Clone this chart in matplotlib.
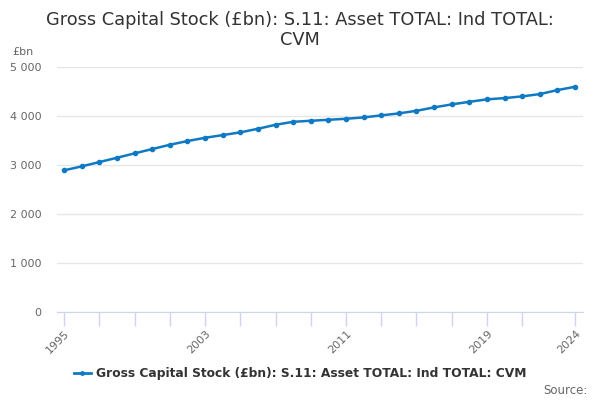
import matplotlib
matplotlib.use("Agg")
import matplotlib.pyplot as plt
from matplotlib.lines import Line2D

years = list(range(1995, 2025))
values = [2892, 2973, 3061, 3149, 3239, 3327, 3415, 3491, 3558, 3613,
          3669, 3742, 3824, 3885, 3906, 3926, 3947, 3975, 4016, 4057,
          4110, 4180, 4241, 4294, 4344, 4370, 4405, 4452, 4534, 4601]
tick_years = list(range(1995, 2022, 2)) + [2024]
label_years = [1995, 2003, 2011, 2019, 2024]
y_ticks = [0, 1000, 2000, 3000, 4000, 5000]
y_labels = ["0", "1 000", "2 000", "3 000", "4 000", "5 000"]
series_name = "Gross Capital Stock (£bn): S.11: Asset TOTAL: Ind TOTAL: CVM"
title = "Gross Capital Stock (£bn): S.11: Asset TOTAL: Ind TOTAL:\nCVM"

color = "#0f7ac3"
fig = plt.figure(figsize=(6, 4), dpi=100)
ax = fig.add_axes([57/600, 1-311.7/400, (583-57)/600, (311.7-67.3)/400])

ax.plot(years, values, color=color, lw=1.8, marker="o", ms=3, zorder=3)

ax.set_xlim(1995-0.4, 2024+0.45)
ax.set_ylim(0, 5000)
ax.set_yticks(y_ticks)
ax.set_yticklabels(y_labels)
ax.yaxis.grid(True, color="#e6e6e6", lw=1)
ax.set_axisbelow(True)
ax.tick_params(axis="y", length=0, pad=11, labelsize=8, labelcolor="#666666")

ax.set_xticks(tick_years)
ax.set_xticklabels([str(y) if y in label_years else "" for y in tick_years],
                   rotation=45, ha="right", rotation_mode="anchor")
ax.tick_params(axis="x", length=10, color="#ccd6eb", width=1, labelsize=8,
               labelcolor="#666666", pad=2)

for s in ["top", "right", "left"]:
    ax.spines[s].set_visible(False)
ax.spines["bottom"].set_color("#ccd6eb")

fig.text(0.5, 1-30/400, title, ha="center", va="center", fontsize=12.8,
         color="#333333", linespacing=1.12)
fig.text(12/600, 1-52/400, "£bn", ha="left", va="center", fontsize=8, color="#666666")

handle = Line2D([], [], color=color, lw=2, marker="o", ms=2.5)
fig.legend([handle], [series_name], loc="center", bbox_to_anchor=(0.5, 1-374/400),
           frameon=False, prop={"weight": "bold", "size": 8.8}, labelcolor="#333333",
           handlelength=1.4, handletextpad=0.4)
fig.text(588/600, 1-391/400, "Source:", ha="right", va="center", fontsize=8.5, color="#666666")

fig.savefig("out.png", dpi=100)
